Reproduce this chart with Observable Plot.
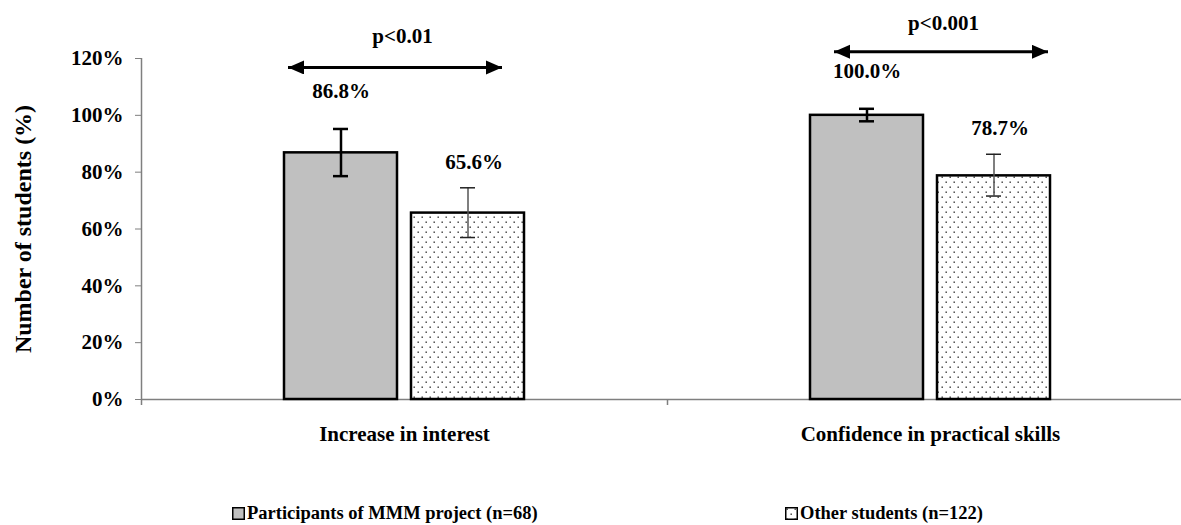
<!DOCTYPE html>
<html><head><meta charset="utf-8">
<script src="https://cdn.jsdelivr.net/npm/d3@7"></script>
<script src="https://cdn.jsdelivr.net/npm/@observablehq/plot@0.6"></script>
<style>
html,body{margin:0;padding:0;background:#fff;}
#wrap{position:relative;width:1181px;height:525px;overflow:hidden;font-family:"Liberation Serif","Times New Roman",serif;font-weight:bold;color:#000;}
#wrap svg.chart{display:block;}
.legend-item{position:absolute;top:503px;display:flex;align-items:center;font-size:18.5px;line-height:20px;white-space:nowrap;}
</style></head><body>
<svg width="0" height="0" style="position:absolute">
<defs>
<pattern id="dots" width="8" height="10" patternUnits="userSpaceOnUse">
<rect x="1.5" y="1.5" width="1.4" height="1.4" fill="#333"/>
<rect x="5.5" y="6.5" width="1.4" height="1.4" fill="#333"/>
</pattern>
<marker id="ahead" markerUnits="userSpaceOnUse" markerWidth="18" markerHeight="16" refX="16" refY="7" orient="auto-start-reverse" viewBox="0 0 18 16">
<path d="M0,0L16,7L0,14Z" fill="#000"/>
</marker>
</defs></svg>
<div id="wrap"></div>
<script>
// ---- data ----
const categories = ["Increase in interest", "Confidence in practical skills"];
const series = ["Participants of MMM project (n=68)", "Other students (n=122)"];
const mmmValues = [86.8, 100.0];
const mmmLow = [78.6, 97.9];
const mmmHigh = [95.2, 102.3];
const otherValues = [65.6, 78.7];
const otherLow = [57.0, 71.6];
const otherHigh = [74.5, 86.3];
const pLabels = ["p<0.01", "p<0.001"];
const yTicks = [0, 20, 40, 60, 80, 100, 120];
const yLabel = "Number of students (%)";

const mmm = categories.map((c, i) => ({category: c, series: series[0], value: mmmValues[i], lo: mmmLow[i], hi: mmmHigh[i]}));
const other = categories.map((c, i) => ({category: c, series: series[1], value: otherValues[i], lo: otherLow[i], hi: otherHigh[i]}));
const sig = categories.map((c, i) => ({category: c, label: pLabels[i], top: Math.max(mmmHigh[i], otherHigh[i])}));

// ---- layout ----
const W = 1181, H = 465, LEFT = 141, RIGHT_EDGE = 1193, TOP = 58, BASE = 399;
const band = (RIGHT_EDGE - LEFT) / categories.length;
const barW = 113, gap = 14, off = (barW + gap) / 2, cap = 15;
const inA = band / 2 - off - barW / 2, inB = band / 2 + off - barW / 2;
const capA = band / 2 - off - cap / 2, capB = band / 2 + off - cap / 2;
const FONT = '"Liberation Serif","Times New Roman",serif';

const chart = Plot.plot({
  width: W, height: H,
  marginLeft: LEFT, marginRight: W - RIGHT_EDGE, marginTop: TOP, marginBottom: H - BASE,
  style: {fontFamily: FONT, fontWeight: "bold", fontSize: "20px", color: "#000", background: "transparent", overflow: "visible"},
  x: {domain: categories, padding: 0, round: false, axis: null},
  y: {domain: [0, 120], axis: null},
  marks: [
    Plot.ruleY([0], {stroke: "#7f7f7f", strokeWidth: 1.5}),
    Plot.ruleX([categories[0]], {x: d => d, dx: -band / 2, insetBottom: -6, stroke: "#7f7f7f", strokeWidth: 1.5}),
    Plot.ruleX(categories.slice(1), {x: d => d, dx: -band / 2, y1: 0, y2: 0, insetBottom: -6, stroke: "#7f7f7f", strokeWidth: 1.5}),
    Plot.axisY({ticks: yTicks, tickFormat: d => d + "%", tickSize: 6, tickPadding: 12, stroke: "#7f7f7f", fill: "#000", fontSize: 21, fontWeight: "bold", label: null}),
    Plot.text([yLabel], {text: d => d, frameAnchor: "left", textAnchor: "middle", rotate: -90, dx: -118, fontSize: 24, fontWeight: "bold", fill: "#000"}),
    Plot.axisX({tickSize: 0, tickPadding: 27, fontSize: 21, fontWeight: "bold", fill: "#000", label: null}),
    Plot.barY(mmm, {x: "category", y: "value", fill: "#c0c0c0", stroke: "#000", strokeWidth: 2.5, insetLeft: inA, insetRight: inB}),
    Plot.barY(other, {x: "category", y: "value", fill: "url(#dots)", stroke: "#000", strokeWidth: 2.5, insetLeft: inB, insetRight: inA}),
    Plot.ruleX(mmm, {x: "category", y1: "lo", y2: "hi", dx: -off, stroke: "#000", strokeWidth: 2.5}),
    Plot.tickY(mmm, {x: "category", y: "lo", insetLeft: capA, insetRight: capB, stroke: "#000", strokeWidth: 2.5}),
    Plot.tickY(mmm, {x: "category", y: "hi", insetLeft: capA, insetRight: capB, stroke: "#000", strokeWidth: 2.5}),
    Plot.ruleX(other, {x: "category", y1: "lo", y2: "hi", dx: off, stroke: "#555", strokeWidth: 1.5}),
    Plot.tickY(other, {x: "category", y: "lo", insetLeft: capB, insetRight: capA, stroke: "#222", strokeWidth: 1.5}),
    Plot.tickY(other, {x: "category", y: "hi", insetLeft: capB, insetRight: capA, stroke: "#222", strokeWidth: 1.5}),
    Plot.text(mmm, {x: "category", y: "hi", text: d => d.value.toFixed(1) + "%", dx: -off, dy: -31, lineAnchor: "bottom", fontSize: 21, fontWeight: "bold", fill: "#000"}),
    Plot.text(other, {x: "category", y: "hi", text: d => d.value.toFixed(1) + "%", dx: off + 6, dy: -19, lineAnchor: "bottom", fontSize: 21, fontWeight: "bold", fill: "#000"}),
    // significance arrows (x1..x2 span the category band, trimmed by insets)
    Plot.ruleY([sig[0]], {x1: "category", x2: "category", y: "top", dy: -61.5, insetLeft: 147, insetRight: 165, stroke: "#000", strokeWidth: 3}),
    Plot.ruleY([sig[1]], {x1: "category", x2: "category", y: "top", dy: -57, insetLeft: 167, insetRight: 145, stroke: "#000", strokeWidth: 3}),
    Plot.text([sig[0]], {x: "category", y: "top", text: "label", dx: -2, dy: -61.5 - 24, lineAnchor: "bottom", fontSize: 21, fontWeight: "bold", fill: "#000"}),
    Plot.text([sig[1]], {x: "category", y: "top", text: "label", dx: 13, dy: -57 - 22, lineAnchor: "bottom", fontSize: 21, fontWeight: "bold", fill: "#000"})
  ]
});
chart.classList.add("chart");
d3.select(chart).selectAll('g[stroke-width="3"] line')
  .attr("marker-start", "url(#ahead)")
  .attr("marker-end", "url(#ahead)");

const wrap = document.getElementById("wrap");
wrap.appendChild(chart);

// ---- legend ----
const legendLeft = [232, 785];
const legendFill = ["#c0c0c0", "url(#dots)"];
series.forEach((s, i) => {
  const item = document.createElement("div");
  item.className = "legend-item";
  item.style.left = legendLeft[i] + "px";
  const sw = document.createElementNS("http://www.w3.org/2000/svg", "svg");
  sw.setAttribute("width", 13); sw.setAttribute("height", 13);
  sw.style.marginRight = "2px";
  const r = document.createElementNS("http://www.w3.org/2000/svg", "rect");
  r.setAttribute("x", 0.75); r.setAttribute("y", 0.75); r.setAttribute("width", 11.5); r.setAttribute("height", 11.5);
  r.setAttribute("fill", legendFill[i]); r.setAttribute("stroke", "#000"); r.setAttribute("stroke-width", 1.5);
  sw.appendChild(r);
  const t = document.createElement("span");
  t.textContent = s;
  item.appendChild(sw); item.appendChild(t);
  wrap.appendChild(item);
});
</script>
</body></html>
